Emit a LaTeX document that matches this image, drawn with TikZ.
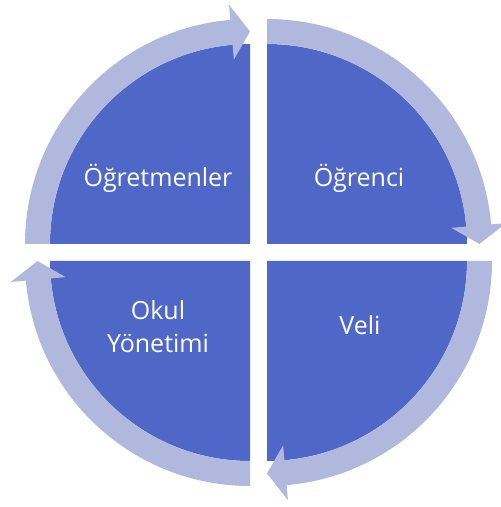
\documentclass[tikz,border=0pt]{standalone}
\usepackage{fontspec}
\setmainfont{Open Sans}
\definecolor{piefill}{RGB}{79,104,199}
\definecolor{ringfill}{RGB}{177,184,222}
\newcommand{\ringarr}[2]{%
  \begin{scope}[shift={#1}]
    \pgfmathsetmacro\ea{#2-90}\pgfmathsetmacro\eb{#2-85}
    \fill[ringarrow] (#2:225) arc[start angle=#2,end angle=\eb,radius=225]
      -- (\eb:240) -- (\ea:212.5) -- (\eb:185) -- (\eb:200)
      arc[start angle=\eb,end angle=#2,radius=200] -- cycle;
  \end{scope}}
\begin{document}
\begin{tikzpicture}[x=1pt,y=1pt,
  slice/.style={fill=piefill},
  ringarrow/.style={fill=ringfill},
  lbl/.style={text=white,font=\fontsize{25}{33}\selectfont,anchor=base,align=center,inner sep=0pt}]
\useasboundingbox (0,0) rectangle (501,507);
\coordinate (C1) at (250,263);
\coordinate (C2) at (267,263);
\coordinate (C3) at (267,246);
\coordinate (C4) at (250,246);
% pie slices
\fill[slice] (C1) -- ++(180:200) arc[start angle=180,end angle=90,radius=200] -- cycle;
\fill[slice] (C2) -- ++(90:200) arc[start angle=90,end angle=0,radius=200] -- cycle;
\fill[slice] (C3) -- ++(0:200) arc[start angle=0,end angle=-90,radius=200] -- cycle;
\fill[slice] (C4) -- ++(270:200) arc[start angle=270,end angle=180,radius=200] -- cycle;
% ring arrows
\ringarr{(C1)}{180}
\ringarr{(C2)}{90}
\ringarr{(C3)}{0}
\ringarr{(C4)}{270}
% labels
\node[lbl] (ogretmenler) at (158,320.3) {Öğretmenler};
\node[lbl] (ogrenci) at (359,320.3) {Öğrenci};
\node[lbl] (veli) at (360,172) {Veli};
\node[lbl] (okul) at (158,154) {Okul\\Yönetimi};
\end{tikzpicture}
\end{document}
